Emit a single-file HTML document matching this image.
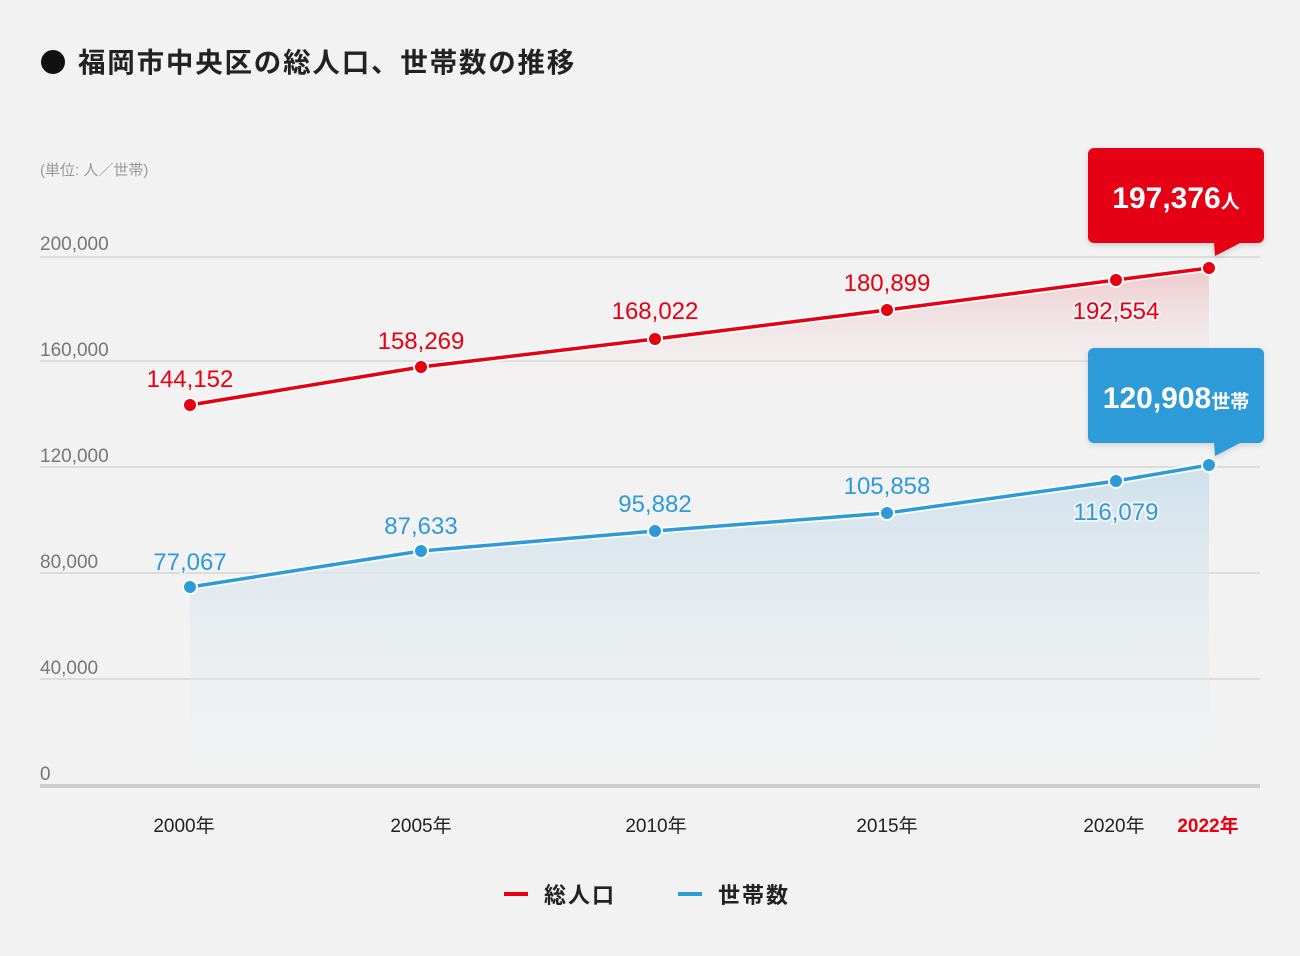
<!DOCTYPE html>
<html><head><meta charset="utf-8"><style>
html,body{margin:0;padding:0;background:#f2f2f2;}
svg{display:block;font-family:"Liberation Sans","Noto Sans CJK JP",sans-serif;}
</style></head><body>
<svg width="1300" height="956" viewBox="0 0 1300 956">
<defs>
<linearGradient id="gr" gradientUnits="userSpaceOnUse" x1="0" y1="262" x2="0" y2="400">
<stop offset="0" stop-color="#eec5c9"/><stop offset="1" stop-color="#f2f2f2" stop-opacity="0"/></linearGradient>
<linearGradient id="gb" gradientUnits="userSpaceOnUse" x1="0" y1="465" x2="0" y2="785">
<stop offset="0" stop-color="#cfe1ec"/><stop offset="1" stop-color="#f2f2f2" stop-opacity="0.2"/></linearGradient>
<filter id="sh" x="-10%" y="-10%" width="130%" height="140%"><feDropShadow dx="0" dy="2" stdDeviation="3" flood-color="#000" flood-opacity="0.15"/></filter>
</defs>
<circle cx="53" cy="62" r="12" fill="#111"/>
<text x="78" y="72" font-size="27.5" font-weight="bold" fill="#222" letter-spacing="1.8">福岡市中央区の総人口、世帯数の推移</text>
<text x="40" y="175" font-size="15" fill="#999">(単位: 人／世帯)</text>
<g stroke="#d4d4d4" stroke-width="1.5">
<line x1="40" y1="257" x2="1260" y2="257"/><line x1="40" y1="361" x2="1260" y2="361"/>
<line x1="40" y1="467" x2="1260" y2="467"/><line x1="40" y1="573" x2="1260" y2="573"/>
<line x1="40" y1="679" x2="1260" y2="679"/></g>
<g font-size="19" fill="#777">
<text x="40" y="250">200,000</text><text x="40" y="356">160,000</text><text x="40" y="462">120,000</text>
<text x="40" y="568">80,000</text><text x="40" y="674">40,000</text><text x="40" y="780">0</text></g>
<polygon points="190,405 421,367 655,339 887,310 1116,280 1209,268 1209,400 190,400" fill="url(#gr)"/>
<polygon points="190,587 421,551 655,531 887,513 1116,481 1209,465 1209,785 190,785" fill="url(#gb)"/>
<line x1="40" y1="786" x2="1260" y2="786" stroke="#ccc" stroke-width="4"/>
<polyline points="190,405 421,367 655,339 887,310 1116,280 1209,268" fill="none" stroke="#fff" stroke-width="7"/>
<polyline points="190,405 421,367 655,339 887,310 1116,280 1209,268" fill="none" stroke="#e60012" stroke-width="3.5"/>
<polyline points="190,587 421,551 655,531 887,513 1116,481 1209,465" fill="none" stroke="#fff" stroke-width="7"/>
<polyline points="190,587 421,551 655,531 887,513 1116,481 1209,465" fill="none" stroke="#2e9bd9" stroke-width="3.5"/>
<g fill="#e60012" stroke="#fff" stroke-width="2">
<circle cx="190" cy="405" r="7"/><circle cx="421" cy="367" r="7"/><circle cx="655" cy="339" r="7"/>
<circle cx="887" cy="310" r="7"/><circle cx="1116" cy="280" r="7"/><circle cx="1209" cy="268" r="7"/></g>
<g fill="#2e9bd9" stroke="#fff" stroke-width="2">
<circle cx="190" cy="587" r="7"/><circle cx="421" cy="551" r="7"/><circle cx="655" cy="531" r="7"/>
<circle cx="887" cy="513" r="7"/><circle cx="1116" cy="481" r="7"/><circle cx="1209" cy="465" r="7"/></g>
<g font-size="24" text-anchor="middle" fill="#e60012" stroke="#f2f2f2" stroke-width="4" paint-order="stroke">
<text x="190" y="387">144,152</text><text x="421" y="349">158,269</text><text x="655" y="319">168,022</text>
<text x="887" y="291">180,899</text><text x="1116" y="319">192,554</text></g>
<g font-size="24" text-anchor="middle" fill="#2e9bd9" stroke="#f2f2f2" stroke-width="4" paint-order="stroke">
<text x="190" y="570">77,067</text><text x="421" y="534">87,633</text><text x="655" y="512">95,882</text>
<text x="887" y="494">105,858</text><text x="1116" y="520">116,079</text></g>
<g filter="url(#sh)">
<rect x="1088" y="148" width="176" height="95" rx="6" fill="#e60012"/>
<polygon points="1214,242 1242,242 1215,256" fill="#e60012"/>
<rect x="1088" y="348" width="176" height="95" rx="6" fill="#2e9bd9"/>
<polygon points="1214,442 1242,442 1215,456" fill="#2e9bd9"/></g>
<text x="1176" y="208" text-anchor="middle" fill="#fff" font-weight="bold"><tspan font-size="30">197,376</tspan><tspan font-size="19">人</tspan></text>
<text x="1176" y="408" text-anchor="middle" fill="#fff" font-weight="bold"><tspan font-size="30">120,908</tspan><tspan font-size="19">世帯</tspan></text>
<g font-size="19" fill="#222" text-anchor="middle">
<text x="184" y="832">2000年</text><text x="421" y="832">2005年</text><text x="656" y="832">2010年</text>
<text x="887" y="832">2015年</text><text x="1114" y="832">2020年</text>
<text x="1208" y="832" fill="#e60012" font-weight="bold">2022年</text></g>
<line x1="504" y1="894" x2="528" y2="894" stroke="#e60012" stroke-width="4"/>
<text x="544" y="903" font-size="22" font-weight="bold" fill="#222" letter-spacing="2">総人口</text>
<line x1="678" y1="894" x2="702" y2="894" stroke="#2e9bd9" stroke-width="4"/>
<text x="718" y="903" font-size="22" font-weight="bold" fill="#222" letter-spacing="2">世帯数</text>
</svg>
</body></html>
